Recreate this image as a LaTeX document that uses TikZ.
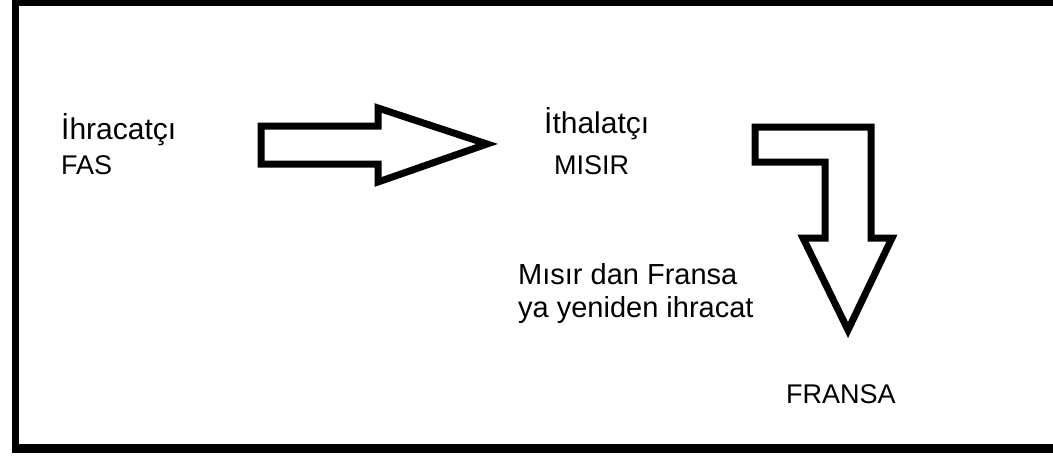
\documentclass[tikz,border=0pt]{standalone}
\usepackage{fontspec}
\setmainfont{Liberation Sans}

\begin{document}
\begin{tikzpicture}[x=1pt,y=-1pt,
  big/.style={anchor=base west,inner sep=0pt,font=\fontsize{30}{36}\selectfont},
  small/.style={anchor=base west,inner sep=0pt,font=\fontsize{27}{32}\selectfont},
  note/.style={anchor=north west,inner sep=0pt,align=left,font=\fontsize{29}{33}\selectfont},
  blockarrow/.style={line width=7pt,line join=miter}]
\useasboundingbox (0,0) rectangle (1053,456);
% frame, open on the right
\fill (12,0) rectangle (19,453);
\fill (12,0) rectangle (1053,6);
\fill (12,444) rectangle (1053,453);

\path (61,139) node[big](Ihracatci){İhracatçı} (61,174) node[small](Fas){FAS}
  (544,133) node[big](Ithalatci){İthalatçı} (554,174) node[small](Misir){MISIR}
  (518,263) node[note](Yeniden){Mısır dan Fransa\\ya yeniden ihracat}
  (786,403) node[small](Fransa){FRANSA};

\draw[blockarrow] (261,126) -- (378,126) -- (378,108) -- (487,144) -- (378,182) -- (378,164) -- (261,164) -- cycle;
\draw[blockarrow] (755,127) -- (871,127) -- (871,238) -- (892,238) -- (848,330) -- (803,238) -- (825,238) -- (825,162) -- (755,162) -- cycle;
\end{tikzpicture}
\end{document}
